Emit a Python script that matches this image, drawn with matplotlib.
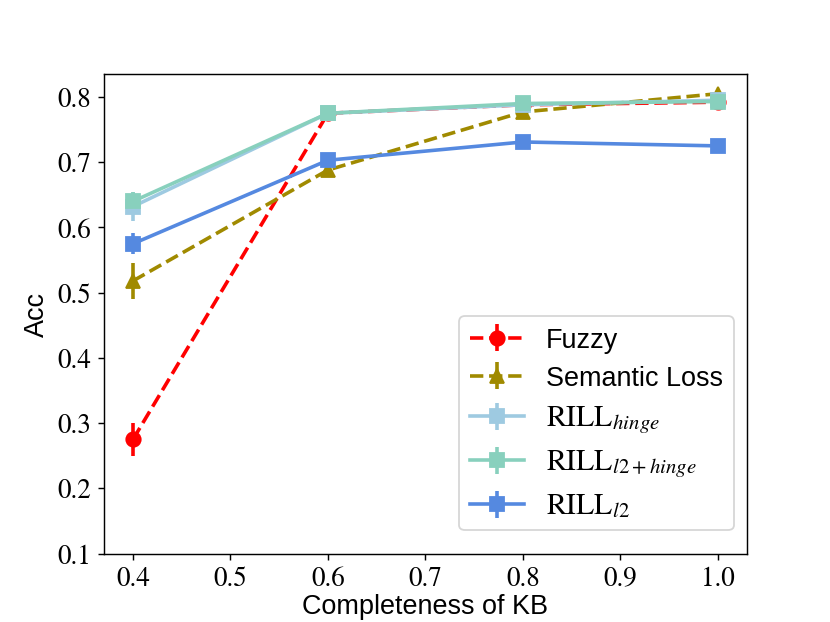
import matplotlib
matplotlib.use("Agg")
import matplotlib.pyplot as plt

plt.rcParams['mathtext.fontset'] = 'stix'

completeness = [0.4, 0.6, 0.8, 1.0]

fuzzy = [0.275, 0.775, 0.788, 0.792]
fuzzy_err = [0.025, 0.004, 0.004, 0.004]
semantic = [0.518, 0.688, 0.777, 0.805]
semantic_err = [0.028, 0.006, 0.005, 0.005]
rill_hinge = [0.632, 0.775, 0.788, 0.795]
rill_hinge_err = [0.022, 0.005, 0.004, 0.004]
rill_l2_hinge = [0.640, 0.775, 0.790, 0.793]
rill_l2_hinge_err = [0.015, 0.005, 0.004, 0.004]
rill_l2 = [0.575, 0.703, 0.731, 0.725]
rill_l2_err = [0.016, 0.006, 0.004, 0.004]

series = [
    ("Fuzzy", fuzzy, fuzzy_err, "#ff0000", "o", "--"),
    ("Semantic Loss", semantic, semantic_err, "#a08a00", "^", "--"),
    (r"$\mathrm{RILL}_{hinge}$", rill_hinge, rill_hinge_err, "#9ecae1", "s", "-"),
    (r"$\mathrm{RILL}_{l2+hinge}$", rill_l2_hinge, rill_l2_hinge_err, "#88d0bd", "s", "-"),
    (r"$\mathrm{RILL}_{l2}$", rill_l2, rill_l2_err, "#5589e0", "s", "-"),
]

fig = plt.figure(figsize=(6.4, 4.8), dpi=129.7)
ax = fig.add_subplot(111)

for label, vals, errs, color, marker, ls in series:
    ax.errorbar(completeness, vals, yerr=errs, color=color, marker=marker,
                linestyle=ls, linewidth=2, markersize=8, elinewidth=2,
                label=label)

ax.set_ylim(0.1, 0.835)
ax.set_xlabel("Completeness of KB", fontsize=15, family="Liberation Sans", labelpad=1)
ax.set_ylabel("Acc", fontsize=15, family="Liberation Sans")
for t in ax.get_xticklabels() + ax.get_yticklabels():
    t.set_family("STIXGeneral")
    t.set_fontsize(15)

leg = ax.legend(loc="lower right", bbox_to_anchor=(1.0, 0.02),
                prop={"family": "Liberation Sans", "size": 15},
                handlelength=2.0, labelspacing=0.45)
for t in leg.get_texts()[2:]:
    t.set_fontsize(16.5)

fig.savefig("out.png", dpi=129.7)
